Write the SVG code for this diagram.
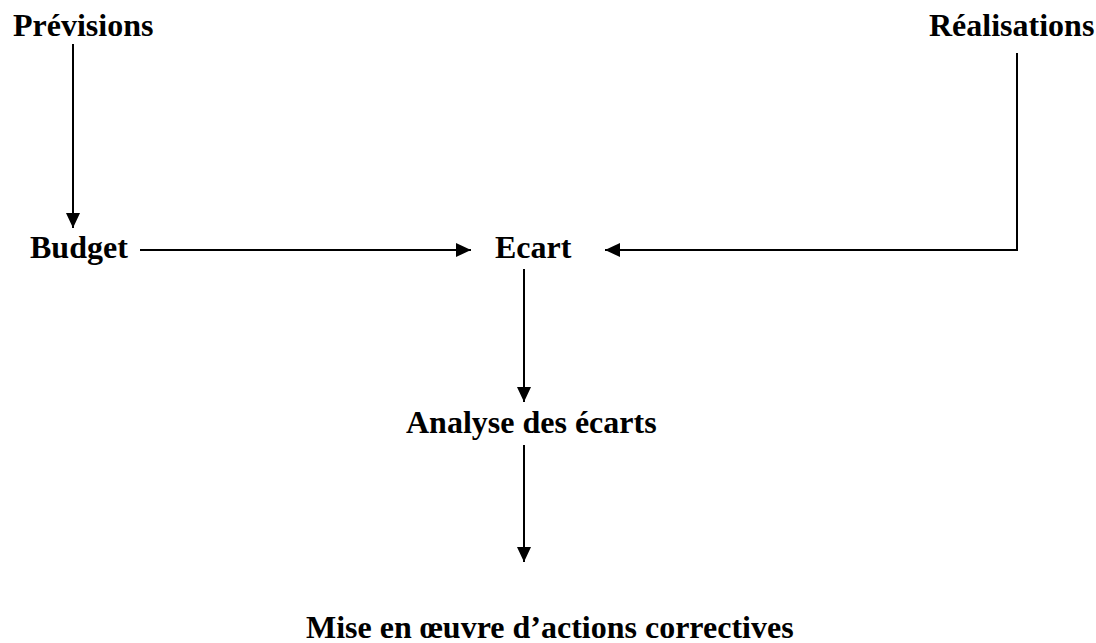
<svg xmlns="http://www.w3.org/2000/svg" width="1096" height="643" viewBox="0 0 1096 643">
<style>
text{font-family:"Liberation Serif","Times New Roman",serif;font-weight:bold;font-size:32px;fill:#000}
.c{stroke:#000;stroke-width:2;fill:none}
</style>
<defs>
<marker id="ah" markerWidth="16" markerHeight="14" refX="15" refY="7" orient="auto" markerUnits="userSpaceOnUse">
<path d="M0,0 L15,7 L0,14 Z" fill="#000"/>
</marker>
</defs>
<rect width="1096" height="643" fill="#fff"/>
<g id="connectors">
<line class="c" x1="73" y1="44" x2="73" y2="228" marker-end="url(#ah)"/>
<line class="c" x1="140" y1="250" x2="471" y2="250" marker-end="url(#ah)"/>
<polyline class="c" points="1017,53 1017,250 605,250" marker-end="url(#ah)"/>
<line class="c" x1="524" y1="269" x2="524" y2="402" marker-end="url(#ah)"/>
<line class="c" x1="524" y1="445" x2="524" y2="562" marker-end="url(#ah)"/>
</g>
<g id="previsions"><text x="13" y="36">Prévisions</text></g>
<g id="realisations"><text x="929" y="36">Réalisations</text></g>
<g id="budget"><text x="30" y="258">Budget</text></g>
<g id="ecart"><text x="495" y="258">Ecart</text></g>
<g id="analyse"><text x="406" y="433">Analyse des écarts</text></g>
<g id="mise"><text x="306" y="638">Mise en œuvre d’actions correctives</text></g>
</svg>
